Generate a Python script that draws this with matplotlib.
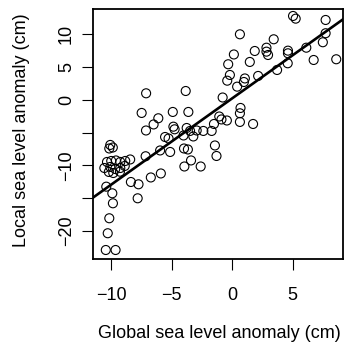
import numpy as np
import matplotlib
matplotlib.use("Agg")
import matplotlib.pyplot as plt

# anomalies in cm
global_anom = [5.04, 5.26, 7.74, 0.64, 3.44, 7.74, 7.51, 1.87, 2.84, 2.84,
               2.97, 4.62, 4.62, 4.60, 6.14, 0.14, 1.46, 6.75, 8.62, -0.33,
               3.72, -0.19, -0.41, 2.15, 1.05, 0.97, 0.41, -0.79, 0.69, 0.64,
               1.73, 0.64, -0.44, -1.07, -0.89, -1.51, -7.13, -3.85, -7.50, -4.92,
               -3.63, -6.12, -6.51, -7.14, -4.87, -4.77, -3.77, -3.49, -2.94, -2.39,
               -1.70, -5.56, -5.27, -4.03, -3.22, -1.43, -3.99, -3.67, -5.14, -5.97,
               -7.17, -1.30, -3.41, -3.96, -2.61, -10.10, -9.89, -10.18, -10.37, -10.02,
               -9.63, -9.27, -8.86, -8.45, -10.59, -10.10, -9.69, -9.27, -8.90, -10.22,
               -9.85, -9.30, -10.43, -8.39, -7.76, -6.74, -5.91, -9.93, -7.83, -9.88,
               -10.18, -10.31, -10.47, -9.66]
local_anom = [12.74, 12.33, 12.13, 9.95, 9.19, 10.11, 8.74, 7.41, 7.91, 7.31,
              6.80, 7.46, 7.06, 5.54, 7.91, 6.88, 5.74, 6.04, 6.15, 5.39,
              4.52, 3.76, 2.89, 3.61, 3.23, 2.69, 1.98, 0.33, -1.26, -2.07,
              -3.70, -3.39, -3.17, -2.56, -3.01, -3.70, 0.97, 1.32, -2.02, -1.87,
              -1.87, -2.83, -3.77, -4.69, -4.11, -4.51, -4.31, -4.76, -4.69, -4.76,
              -4.76, -5.68, -5.91, -5.45, -5.60, -6.97, -7.43, -7.58, -7.96, -7.73,
              -8.61, -8.57, -9.25, -10.17, -10.17, -6.89, -7.28, -7.43, -9.48, -9.33,
              -9.25, -9.48, -9.33, -9.10, -10.40, -10.24, -10.55, -10.40, -10.09, -11.00,
              -11.16, -10.96, -13.24, -12.53, -12.88, -11.84, -11.23, -14.25, -15.01, -15.77,
              -18.05, -20.33, -22.88, -22.88]

# regression line as drawn in the picture
fit_slope = 1.31
fit_intercept = 0.2

xticks = [-10, -5, 0, 5]
xticklabels = ["\u221210", "\u22125", "0", "5"]
yticks = [-20, -15, -10, -5, 0, 5, 10]
yticklabels = ["\u221220", "", "\u221210", "", "0", "5", "10"]

plt.rcParams['font.family'] = ['Liberation Sans', 'DejaVu Sans']

fig = plt.figure(figsize=(3.44, 3.48), dpi=100)
ax = fig.add_axes([93 / 344, 1 - 259 / 348, 250 / 344, 250 / 348])

ax.scatter(global_anom, local_anom, s=42, facecolors='none',
           edgecolors='black', linewidths=0.8)
ax.axline((0, fit_intercept), slope=fit_slope, color='black', lw=1.9)

ax.set_xlim(-11.53, 9.18)
ax.set_ylim(-24.25, 13.8)
ax.set_xticks(xticks)
ax.set_xticklabels(xticklabels)
ax.set_yticks(yticks)
ax.set_yticklabels(yticklabels, rotation=90, va='center')
ax.tick_params(axis='both', length=8, width=0.8, labelsize=13)
ax.tick_params(axis='x', pad=12)
ax.tick_params(axis='y', pad=5)
for sp in ax.spines.values():
    sp.set_linewidth(1.3)

fig.text(219 / 344, 1 - 334 / 348, "Global sea level anomaly (cm)",
         ha='center', va='center', fontsize=13)
fig.text(22 / 344, 1 - 130 / 348, "Local sea level anomaly (cm)",
         ha='center', va='center', rotation=90, fontsize=13)

fig.savefig('out.png', dpi=100)
